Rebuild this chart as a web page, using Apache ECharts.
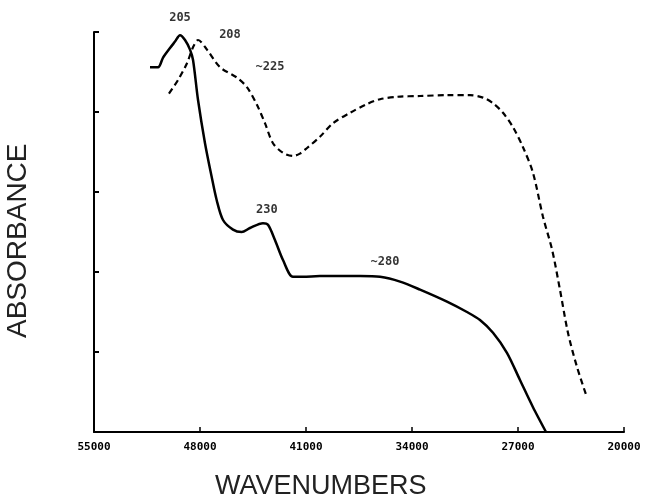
<!DOCTYPE html>
<html>
<head>
<meta charset="utf-8">
<script src="https://cdn.jsdelivr.net/npm/echarts@6/dist/echarts.min.js"></script>
<style>html,body{margin:0;padding:0;background:#fff}#c{width:647px;height:502px}</style>
</head>
<body>
<div id="c"></div>
<script>
// Solid curve (wavenumber, absorbance)
const solidWn = [51300, 50770, 50440, 49980, 49650, 49320, 48990, 48660, 48460, 48130, 47670, 47230, 46900, 46480, 45820, 45250, 44700, 43840, 43510, 43050, 42520, 41860, 41200, 40080, 38950, 37430, 36110, 34790, 33470, 31690, 30370, 29510, 28650, 27730, 26870, 26010, 25150];
const solidAbs = [4.56, 4.56, 4.68, 4.80, 4.88, 4.96, 4.90, 4.78, 4.65, 4.15, 3.61, 3.19, 2.90, 2.65, 2.53, 2.50, 2.55, 2.61, 2.59, 2.40, 2.15, 1.94, 1.94, 1.95, 1.95, 1.95, 1.94, 1.88, 1.78, 1.63, 1.50, 1.40, 1.24, 0.99, 0.65, 0.31, 0.0];
// Dashed curve
const dashWn = [50050, 49450, 48860, 48460, 48130, 47540, 46680, 45560, 44900, 44240, 43710, 43180, 42520, 41860, 41400, 40930, 40080, 39220, 38090, 36970, 36110, 34990, 33470, 31690, 30170, 29310, 28650, 27990, 27330, 26670, 26010, 25350, 24750, 24230, 23700, 23100, 22440];
const dashAbs = [4.23, 4.40, 4.61, 4.81, 4.90, 4.78, 4.56, 4.43, 4.31, 4.09, 3.86, 3.61, 3.49, 3.45, 3.48, 3.55, 3.69, 3.86, 3.99, 4.10, 4.16, 4.19, 4.20, 4.21, 4.21, 4.18, 4.11, 3.99, 3.81, 3.56, 3.24, 2.69, 2.28, 1.78, 1.24, 0.81, 0.43];
// Peak annotations
const noteText = ['205', '208', '~225', '230', '~280'];
const noteWn = [49320, 46020, 43380, 43580, 35780];
const noteAbs = [5.175, 4.96, 4.56, 2.78, 2.13];
// Axis ticks
const xTicks = [55000, 48000, 41000, 34000, 27000, 20000];
const yTicks = [0, 1, 2, 3, 4, 5];

const zip = (a, b) => a.map((v, i) => [v, b[i]]);
const chart = echarts.init(document.getElementById('c'), null, {renderer: 'canvas'});
chart.setOption({
  animation: false,
  backgroundColor: '#fff',
  grid: {left: 94, right: 23, top: 32, bottom: 70, containLabel: false},
  xAxis: {
    type: 'value', inverse: true, min: 20000, max: 55000,
    axisLine: {show: true, lineStyle: {color: '#000', width: 2}},
    axisTick: {show: true, inside: true, length: 5, customValues: xTicks, lineStyle: {color: '#000', width: 1.5}},
    axisLabel: {show: true, customValues: xTicks, margin: 10, color: '#000', fontFamily: 'DejaVu Sans Mono', fontWeight: 'bold', fontSize: 11,
      formatter: v => String(v)},
    splitLine: {show: false}
  },
  yAxis: {
    type: 'value', min: 0, max: 5,
    axisLine: {show: true, lineStyle: {color: '#000', width: 2}},
    axisTick: {show: true, inside: true, length: 5, customValues: yTicks, lineStyle: {color: '#000', width: 2}},
    axisLabel: {show: false},
    splitLine: {show: false}
  },
  graphic: [
    {type: 'text', left: 215, top: 473, style: {text: 'WAVENUMBERS', fill: '#222', font: 'normal 27px "Liberation Sans"'}},
    {type: 'text', x: 4, y: 338, rotation: Math.PI / 2, style: {text: 'ABSORBANCE', fill: '#222', font: 'normal 28px "Liberation Sans"'}}
  ],
  series: [
    {type: 'line', data: zip(solidWn, solidAbs), showSymbol: false, smooth: 0.3,
      lineStyle: {color: '#000', width: 2.5}},
    {type: 'line', data: zip(dashWn, dashAbs), showSymbol: false, smooth: 0.3,
      lineStyle: {color: '#000', width: 2.2, type: [6, 4]}},
    {type: 'scatter', data: noteText.map((t, i) => ({value: [noteWn[i], noteAbs[i]], name: t})),
      symbolSize: 0, clip: false, silent: true,
      label: {show: true, position: 'inside', formatter: p => p.name, color: '#000',
        fontFamily: 'DejaVu Sans Mono', fontWeight: 'bold', fontSize: 12}}
  ]
});
</script>
</body>
</html>
